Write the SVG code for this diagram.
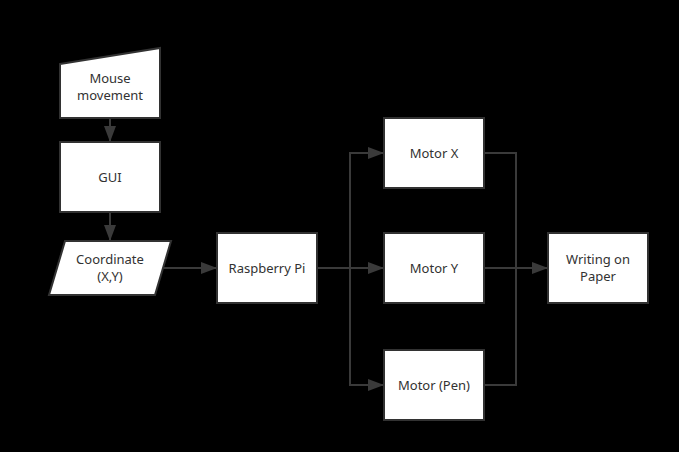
<svg xmlns="http://www.w3.org/2000/svg" width="679" height="452" viewBox="0 0 679 452">
<defs>
<style>
.node{fill:#ffffff;stroke:#323232;stroke-width:2}
.lbl{font-family:"Noto Sans","Open Sans",sans-serif;font-size:13px;fill:#323232;text-anchor:middle}
.edge{fill:none;stroke:#3a3a3a;stroke-width:2}
</style>
<marker id="arr" viewBox="0 0 16 12" refX="16" refY="6" markerWidth="16" markerHeight="12" markerUnits="userSpaceOnUse" orient="auto">
<path d="M0,0 L16,6 L0,12 Z" fill="#3a3a3a"/>
</marker>
</defs>
<rect width="679" height="452" fill="#000000"/>
<g id="connectors">
<path class="edge" d="M110,118 V142" marker-end="url(#arr)"/>
<path class="edge" d="M110,212 V241" marker-end="url(#arr)"/>
<path class="edge" d="M163,268 H217" marker-end="url(#arr)"/>
<path class="edge" d="M317,268 H384" marker-end="url(#arr)"/>
<path class="edge" d="M350,268 V153 H384" marker-end="url(#arr)"/>
<path class="edge" d="M350,268 V385 H384" marker-end="url(#arr)"/>
<path class="edge" d="M484,153 H516 V268"/>
<path class="edge" d="M484,385 H516 V268"/>
<path class="edge" d="M484,268 H548" marker-end="url(#arr)"/>
</g>
<g id="mouse">
<path class="node" d="M60,64 L160,48 L160,118 L60,118 Z"/>
<text class="lbl" x="110" y="83">Mouse</text>
<text class="lbl" x="110" y="100">movement</text>
</g>
<g id="gui">
<rect class="node" x="60" y="142" width="100" height="70"/>
<text class="lbl" x="110" y="182">GUI</text>
</g>
<g id="coord">
<path class="node" d="M65,241 L171,241 L155,295 L49,295 Z"/>
<text class="lbl" x="110" y="264">Coordinate</text>
<text class="lbl" x="110" y="281">(X,Y)</text>
</g>
<g id="rpi">
<rect class="node" x="217" y="233" width="100" height="70"/>
<text class="lbl" x="267" y="273">Raspberry Pi</text>
</g>
<g id="motorx">
<rect class="node" x="384" y="118" width="100" height="70"/>
<text class="lbl" x="434" y="158">Motor X</text>
</g>
<g id="motory">
<rect class="node" x="384" y="233" width="100" height="70"/>
<text class="lbl" x="434" y="273">Motor Y</text>
</g>
<g id="motorpen">
<rect class="node" x="384" y="350" width="100" height="70"/>
<text class="lbl" x="434" y="390">Motor (Pen)</text>
</g>
<g id="writing">
<rect class="node" x="548" y="233" width="100" height="70"/>
<text class="lbl" x="598" y="264">Writing on</text>
<text class="lbl" x="598" y="281">Paper</text>
</g>
</svg>
